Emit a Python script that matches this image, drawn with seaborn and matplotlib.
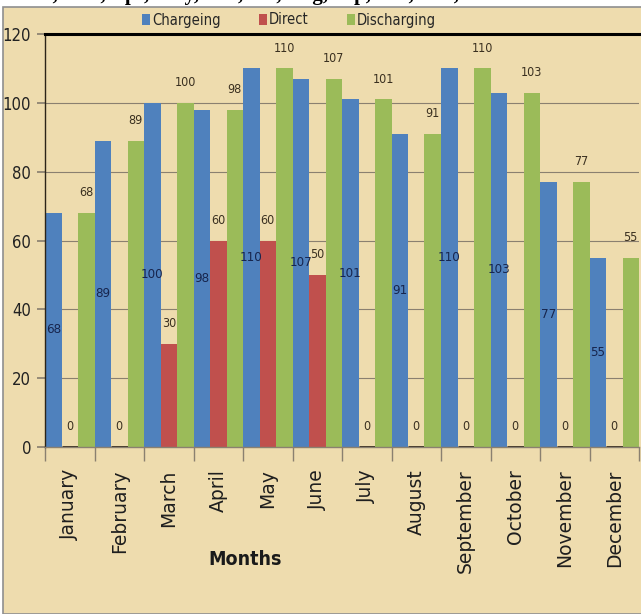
import numpy as np
import pandas as pd
import matplotlib
matplotlib.use('Agg')
import matplotlib.pyplot as plt
from matplotlib.patches import Patch, Rectangle
import seaborn as sns

# data
months = ['January', 'February', 'March', 'April', 'May', 'June',
          'July', 'August', 'September', 'October', 'November', 'December']
chargeing = [68, 89, 100, 98, 110, 107, 101, 91, 110, 103, 77, 55]
direct = [0, 0, 30, 60, 60, 50, 0, 0, 0, 0, 0, 0]
discharging = [68, 89, 100, 98, 110, 107, 101, 91, 110, 103, 77, 55]
series = ['Chargeing', 'Direct', 'Discharging']
colors = {'Chargeing': '#4F81BD', 'Direct': '#C0504D', 'Discharging': '#9BBB59'}

df = pd.DataFrame({'Month': months, 'Chargeing': chargeing,
                   'Direct': direct, 'Discharging': discharging})
df = df.melt(id_vars='Month', var_name='Series', value_name='Value')

sns.set_theme(style='white')
plt.rcParams['font.family'] = ['DejaVu Sans']
plt.rcParams['font.stretch'] = 'condensed'

parch = '#EEDCAE'
fig = plt.figure(figsize=(6.41, 6.14), dpi=100, facecolor='white')
# parchment panel with grey frame
bg = Rectangle((3 / 641, 0), 1, 1 - 7 / 614, transform=fig.transFigure,
               facecolor=parch, edgecolor='#8f8f8f', lw=1.2, zorder=-5)
fig.add_artist(bg)
# clipped heading above the chart
fig.text(0.03, 1.0, 'Feb, Mar, Apr, May, Jun, Jul, Aug, Sep, Oct, Nov, Dec',
         family=['Liberation Serif', 'DejaVu Serif'], fontweight='bold', fontsize=15,
         fontstretch='normal', va='baseline', ha='left', color='black', zorder=-6)

ax = fig.add_axes([45 / 641, 167 / 614, 594 / 641, 413 / 614])
ax.set_facecolor('none')

sns.barplot(data=df, x='Month', y='Value', hue='Series', hue_order=series,
            palette=colors, width=1.0, saturation=1, legend=False, ax=ax,
            edgecolor='none', linewidth=0, zorder=2)

ax.set_ylim(0, 120)
ax.set_xlim(-0.5, 11.5)
ax.set_yticks(np.arange(0, 121, 20))
ax.yaxis.grid(True, color='#8a8070', lw=0.8, zorder=1)
ax.set_axisbelow(True)

ax.spines['right'].set_visible(False)
ax.spines['top'].set_color('black')
ax.spines['top'].set_linewidth(2.2)
ax.spines['left'].set_color('#2b2418')
ax.spines['left'].set_linewidth(1.0)
ax.spines['bottom'].set_color('#8a8070')
ax.spines['bottom'].set_linewidth(1.0)

ax.tick_params(axis='y', left=True, length=6, color='#8a8070', labelsize=12, pad=4,
               labelcolor='#222222')
ax.set_xticks(np.arange(-0.5, 12, 1), minor=True)
ax.tick_params(axis='x', which='minor', bottom=True, length=10, color='#8a8070')
ax.tick_params(axis='x', which='major', bottom=False, length=0, pad=16)
ax.set_xticklabels(months, rotation=90, fontsize=13.5, fontstretch='normal',
                   va='top', ha='center', color='#1e1e1e')

ax.set_ylabel('')
ax.set_xlabel('Months', fontsize=14, fontweight='bold', color='#1a1a1a')
ax.xaxis.set_label_coords(0.337, -0.25)

# value labels
blue_c, red_c, green_c = ax.containers[0], ax.containers[1], ax.containers[2]
ax.bar_label(blue_c, labels=[str(v) for v in chargeing], label_type='center',
             fontsize=9.5, color='#17254d')
ax.bar_label(red_c, labels=[str(v) for v in direct], padding=10,
             fontsize=9, color='#3a3020')
ax.bar_label(green_c, labels=[str(v) for v in discharging], padding=10,
             fontsize=9, color='#3a3020')
for p in red_c:
    if p.get_height() == 0:
        p.set_edgecolor('#2b2015')
        p.set_linewidth(2)

handles = [Patch(facecolor=colors[s], edgecolor='none') for s in series]
fig.legend(handles, series, loc='center left', bbox_to_anchor=(142 / 641, 1 - 20 / 614),
           ncol=3, frameon=False, fontsize=10.5, handlelength=0.55, handleheight=0.8,
           handletextpad=0.15, columnspacing=2.6, borderaxespad=0, borderpad=0)

fig.savefig('out.png', dpi=100, facecolor=fig.get_facecolor())
